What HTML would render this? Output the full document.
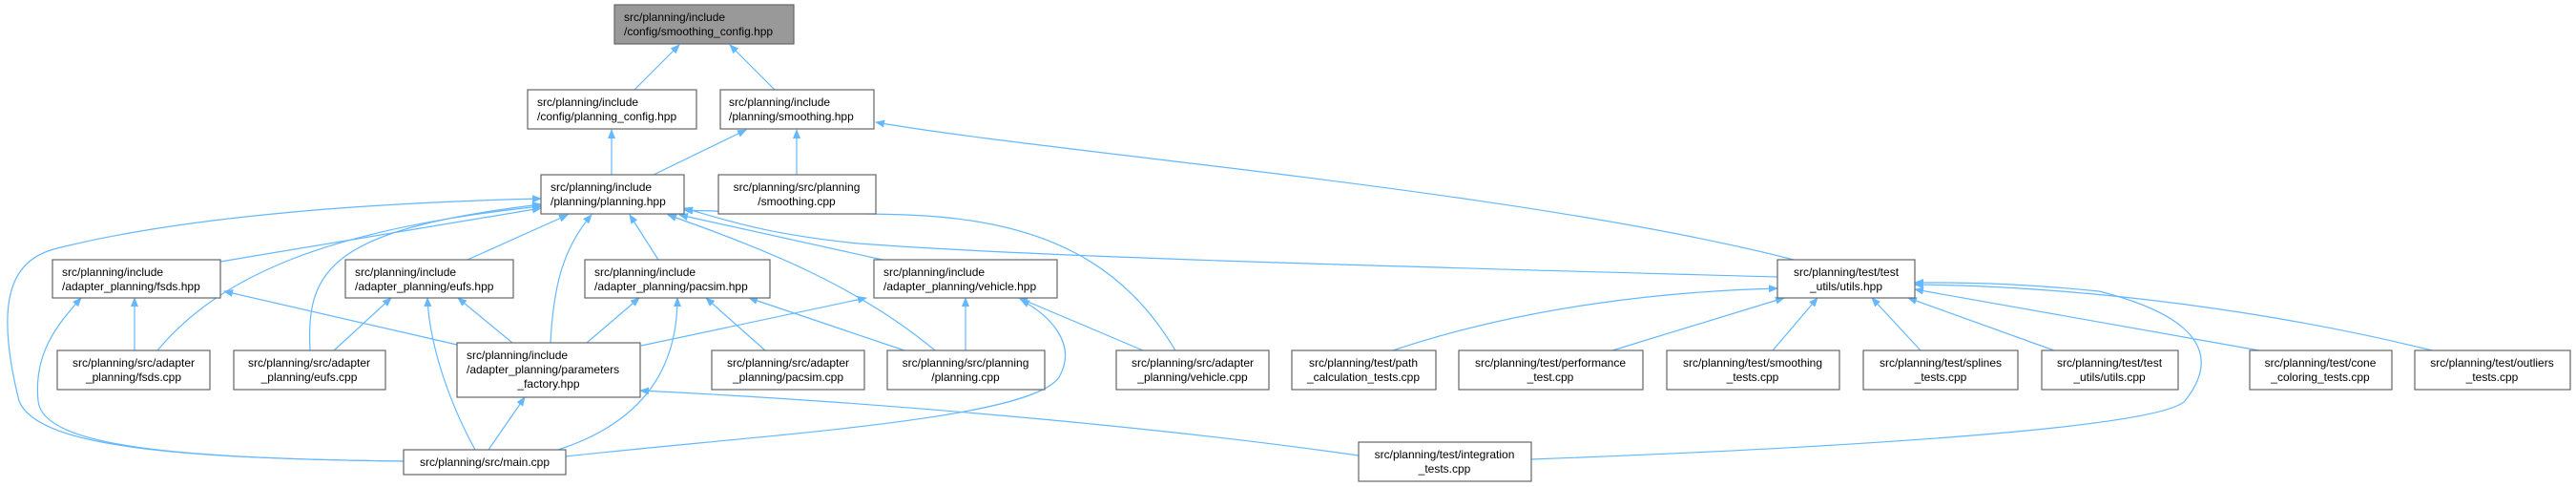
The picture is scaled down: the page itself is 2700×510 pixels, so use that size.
<!DOCTYPE html>
<html><head><meta charset="utf-8"><style>
html,body{margin:0;padding:0;background:#fff;}
svg{display:block;}
text{font-family:"Liberation Sans",Arial,sans-serif;font-size:12px;fill:#000;}
.e{fill:none;stroke:#63b8ff;stroke-width:1.2;marker-end:url(#a);}
.n{fill:#fff;stroke:#666;stroke-width:1.2;}
</style></head><body>
<svg width="2700" height="510" viewBox="0 0 2700 510" xmlns="http://www.w3.org/2000/svg">
<defs><marker id="a" markerWidth="10" markerHeight="10" refX="9" refY="5" orient="auto" markerUnits="userSpaceOnUse"><path d="M0,1 L10,5 L0,9 z" fill="#63b8ff"/></marker></defs>
<!-- edges -->
<path class="e" d="M665,94 L712,47"/>
<path class="e" d="M812,94 L765,47"/>
<path class="e" d="M641,183 L641,136"/>
<path class="e" d="M685,183 L782,136"/>
<path class="e" d="M835,183 L835,136"/>
<path class="e" d="M1880,272 C1600,200 1100,160 918,128"/>
<path class="e" d="M231,274 L567,218"/>
<path class="e" d="M165,367 C230,290 340,240 567,216"/>
<path class="e" d="M325,367 C320,280 350,240 567,214"/>
<path class="e" d="M423,483 C200,480 40,470 20,420 C-10,300 20,270 60,260 C200,225 400,212 567,208"/>
<path class="e" d="M490,272 L595,225"/>
<path class="e" d="M577,359 C580,300 590,260 620,225"/>
<path class="e" d="M690,272 L660,225"/>
<path class="e" d="M980,367 C900,300 800,260 700,225"/>
<path class="e" d="M925,272 L712,225"/>
<path class="e" d="M1232,367 C1180,280 1100,230 950,225 C850,222 760,222 717,220"/>
<path class="e" d="M1863,290 C1500,280 1100,270 900,255 C800,245 760,230 717,218"/>
<path class="e" d="M141,367 L141,312"/>
<path class="e" d="M423,483 C200,480 45,470 40,420 C35,370 60,340 85,312"/>
<path class="e" d="M479,361 L235,305"/>
<path class="e" d="M350,367 L410,312"/>
<path class="e" d="M498,471 C470,420 450,360 448,312"/>
<path class="e" d="M537,359 L480,312"/>
<path class="e" d="M615,359 L670,312"/>
<path class="e" d="M585,471 C680,440 710,380 710,312"/>
<path class="e" d="M802,367 L740,312"/>
<path class="e" d="M948,367 L785,312"/>
<path class="e" d="M672,362 L908,312"/>
<path class="e" d="M1012,367 L1012,312"/>
<path class="e" d="M1198,367 L1068,312"/>
<path class="e" d="M593,478 C800,455 1080,440 1110,395 C1130,360 1100,330 1070,314"/>
<path class="e" d="M512,471 L550,416"/>
<path class="e" d="M1424,477 C1200,445 900,420 671,409"/>
<path class="e" d="M1605,481 C1900,470 2260,450 2290,420 C2330,370 2300,330 2200,305 C2100,295 2040,296 2007,296"/>
<path class="e" d="M1460,367 C1600,320 1750,305 1863,302"/>
<path class="e" d="M1690,367 L1870,312"/>
<path class="e" d="M1858,367 L1905,312"/>
<path class="e" d="M2013,367 L1962,312"/>
<path class="e" d="M2153,367 L2000,312"/>
<path class="e" d="M2368,367 L2007,303"/>
<path class="e" d="M2549,367 C2400,330 2200,300 2007,298"/>
<!-- nodes -->
<rect x="644" y="5" width="188" height="41" fill="#999" stroke="#666" stroke-width="1.2"/>
<text x="654" y="22">src/planning/include</text><text x="654" y="37">/config/smoothing_config.hpp</text>

<rect class="n" x="553" y="94" width="177" height="41"/>
<text x="563" y="111">src/planning/include</text><text x="563" y="126">/config/planning_config.hpp</text>

<rect class="n" x="755" y="94" width="161" height="41"/>
<text x="764" y="111">src/planning/include</text><text x="764" y="126">/planning/smoothing.hpp</text>

<rect class="n" x="567" y="183" width="150" height="41"/>
<text x="577" y="200">src/planning/include</text><text x="577" y="215">/planning/planning.hpp</text>

<rect class="n" x="753" y="183" width="165" height="41"/>
<text x="835" y="200" text-anchor="middle">src/planning/src/planning</text><text x="835" y="215" text-anchor="middle">/smoothing.cpp</text>

<rect class="n" x="55" y="272" width="176" height="40"/>
<text x="65" y="289">src/planning/include</text><text x="65" y="304">/adapter_planning/fsds.hpp</text>

<rect class="n" x="362" y="272" width="176" height="40"/>
<text x="372" y="289">src/planning/include</text><text x="372" y="304">/adapter_planning/eufs.hpp</text>

<rect class="n" x="613" y="272" width="194" height="40"/>
<text x="623" y="289">src/planning/include</text><text x="623" y="304">/adapter_planning/pacsim.hpp</text>

<rect class="n" x="916" y="272" width="192" height="40"/>
<text x="926" y="289">src/planning/include</text><text x="926" y="304">/adapter_planning/vehicle.hpp</text>

<rect class="n" x="1863" y="272" width="144" height="40"/>
<text x="1935" y="289" text-anchor="middle">src/planning/test/test</text><text x="1935" y="304" text-anchor="middle">_utils/utils.hpp</text>

<rect class="n" x="60" y="367" width="160" height="41"/>
<text x="140" y="384" text-anchor="middle">src/planning/src/adapter</text><text x="140" y="399" text-anchor="middle">_planning/fsds.cpp</text>

<rect class="n" x="245" y="367" width="159" height="41"/>
<text x="324" y="384" text-anchor="middle">src/planning/src/adapter</text><text x="324" y="399" text-anchor="middle">_planning/eufs.cpp</text>

<rect class="n" x="479" y="359" width="192" height="57"/>
<text x="489" y="376">src/planning/include</text><text x="489" y="391">/adapter_planning/parameters</text><text x="575" y="406" text-anchor="middle">_factory.hpp</text>

<rect class="n" x="746" y="367" width="160" height="41"/>
<text x="826" y="384" text-anchor="middle">src/planning/src/adapter</text><text x="826" y="399" text-anchor="middle">_planning/pacsim.cpp</text>

<rect class="n" x="930" y="367" width="165" height="41"/>
<text x="1012" y="384" text-anchor="middle">src/planning/src/planning</text><text x="1012" y="399" text-anchor="middle">/planning.cpp</text>

<rect class="n" x="1170" y="367" width="160" height="41"/>
<text x="1250" y="384" text-anchor="middle">src/planning/src/adapter</text><text x="1250" y="399" text-anchor="middle">_planning/vehicle.cpp</text>

<rect class="n" x="1354" y="367" width="151" height="41"/>
<text x="1429" y="384" text-anchor="middle">src/planning/test/path</text><text x="1429" y="399" text-anchor="middle">_calculation_tests.cpp</text>

<rect class="n" x="1529" y="367" width="193" height="41"/>
<text x="1625" y="384" text-anchor="middle">src/planning/test/performance</text><text x="1625" y="399" text-anchor="middle">_test.cpp</text>

<rect class="n" x="1747" y="367" width="181" height="41"/>
<text x="1837" y="384" text-anchor="middle">src/planning/test/smoothing</text><text x="1837" y="399" text-anchor="middle">_tests.cpp</text>

<rect class="n" x="1953" y="367" width="162" height="41"/>
<text x="2034" y="384" text-anchor="middle">src/planning/test/splines</text><text x="2034" y="399" text-anchor="middle">_tests.cpp</text>

<rect class="n" x="2140" y="367" width="143" height="41"/>
<text x="2211" y="384" text-anchor="middle">src/planning/test/test</text><text x="2211" y="399" text-anchor="middle">_utils/utils.cpp</text>

<rect class="n" x="2358" y="367" width="149" height="41"/>
<text x="2432" y="384" text-anchor="middle">src/planning/test/cone</text><text x="2432" y="399" text-anchor="middle">_coloring_tests.cpp</text>

<rect class="n" x="2531" y="367" width="163" height="41"/>
<text x="2612" y="384" text-anchor="middle">src/planning/test/outliers</text><text x="2612" y="399" text-anchor="middle">_tests.cpp</text>

<rect class="n" x="423" y="471" width="170" height="26"/>
<text x="508" y="488" text-anchor="middle">src/planning/src/main.cpp</text>

<rect class="n" x="1424" y="463" width="181" height="41"/>
<text x="1514" y="480" text-anchor="middle">src/planning/test/integration</text><text x="1514" y="495" text-anchor="middle">_tests.cpp</text>
</svg>
</body></html>
